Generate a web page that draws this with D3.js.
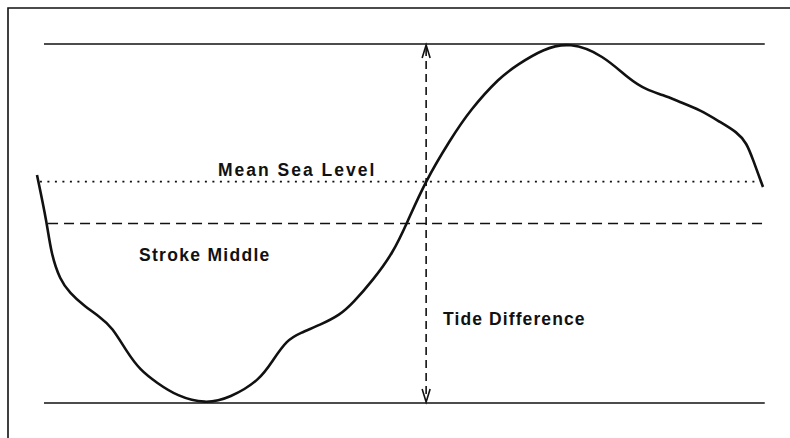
<!DOCTYPE html>
<html>
<head>
<meta charset="utf-8">
<script src="https://cdn.jsdelivr.net/npm/d3@7"></script>
<style>
  html, body { margin: 0; padding: 0; background: #fff; }
  svg { display: block; }
  text { font-family: "Liberation Sans", Arial, sans-serif; font-weight: bold; fill: #111; }
</style>
</head>
<body>
<svg id="chart" width="790" height="438"></svg>
<script>
// Time in hours, water level in metres (low water = 0)
const tideTime = [0, 0.172, 0.241, 0.396, 0.568, 0.792, 1.085, 1.291, 1.55, 1.773, 2.066, 2.41, 2.893,
  3.323, 3.84, 4.063, 4.304, 4.528, 4.873, 5.217, 5.441, 5.785, 6.129, 6.37, 6.68, 7.111, 7.455, 7.972,
  8.264, 8.712, 9.177, 9.745, 10.21, 10.5, 10.78, 11.07, 11.42, 11.76, 12.05, 12.22, 12.33, 12.5];
const tideLevel = [2.286, 1.805, 1.504, 1.233, 1.103, 0.983, 0.862, 0.762, 0.511, 0.331, 0.201, 0.07, -0.01,
  0.05, 0.231, 0.431, 0.632, 0.702, 0.782, 0.882, 1.003, 1.233, 1.504, 1.805, 2.216, 2.637, 2.938, 3.269,
  3.389, 3.55, 3.62, 3.49, 3.239, 3.139, 3.089, 3.018, 2.938, 2.818, 2.718, 2.607, 2.437, 2.166];

const highWater = 3.6;
const lowWater = 0;
const meanSeaLevel = 2.22;
const strokeMiddle = 1.8;
const arrowTime = 6.7;
const lineStart = 0.12, lineEnd = 12.53;
const mslStart = 0.05, smStart = 0.19;

const labels = ["Mean Sea Level", "Stroke Middle", "Tide Difference"];

const svg = d3.select("#chart");
const x = d3.scaleLinear().domain([0, 12.5]).range([37, 763]);
const y = d3.scaleLinear().domain([0, 3.6]).range([403, 44]);

// frame (top and left edges visible)
svg.append("path")
  .attr("d", `M8,438 L8,8 L790,8`)
  .attr("fill", "none").attr("stroke", "#111").attr("stroke-width", 1.6);

function hline(t0, t1, v, dash, w) {
  svg.append("line")
    .attr("x1", x(t0)).attr("x2", x(t1))
    .attr("y1", y(v)).attr("y2", y(v))
    .attr("stroke", "#111").attr("stroke-width", w)
    .attr("stroke-dasharray", dash);
}
hline(lineStart, lineEnd, highWater, null, 1.6);
hline(lineStart, lineEnd, lowWater, null, 1.6);
hline(mslStart, lineEnd, meanSeaLevel, "2,5.5", 1.8);
hline(smStart, lineEnd, strokeMiddle, "10,6", 1.6);

// vertical tide difference arrow
const ax = x(arrowTime);
svg.append("line")
  .attr("x1", ax).attr("x2", ax)
  .attr("y1", y(highWater) + 4).attr("y2", y(lowWater) - 4)
  .attr("stroke", "#111").attr("stroke-width", 1.6)
  .attr("stroke-dasharray", "8,5");
const aTop = y(highWater), aBot = y(lowWater);
svg.append("path")
  .attr("d", `M${ax-4},${aTop+14} L${ax},${aTop+1} L${ax+4},${aTop+14}`)
  .attr("fill", "none").attr("stroke", "#111").attr("stroke-width", 1.6);
svg.append("path")
  .attr("d", `M${ax-4},${aBot-14} L${ax},${aBot-1} L${ax+4},${aBot-14}`)
  .attr("fill", "none").attr("stroke", "#111").attr("stroke-width", 1.6);

// tide curve
const data = tideTime.map((t, i) => ({ t, v: tideLevel[i] }));
svg.append("path")
  .datum(data)
  .attr("d", d3.line().x(d => x(d.t)).y(d => y(d.v)).curve(d3.curveBasis))
  .attr("fill", "none").attr("stroke", "#111").attr("stroke-width", 2.6)
  .attr("stroke-linejoin", "round");

// labels
svg.append("text").attr("x", 218).attr("y", y(meanSeaLevel) - 6)
  .attr("font-size", 17.5).attr("letter-spacing", 2).text(labels[0]);
svg.append("text").attr("x", 139).attr("y", 261)
  .attr("font-size", 17.5).attr("letter-spacing", 1.3).text(labels[1]);
svg.append("text").attr("x", 443).attr("y", 325)
  .attr("font-size", 17.5).attr("letter-spacing", 1.1).text(labels[2]);
</script>
</body>
</html>
